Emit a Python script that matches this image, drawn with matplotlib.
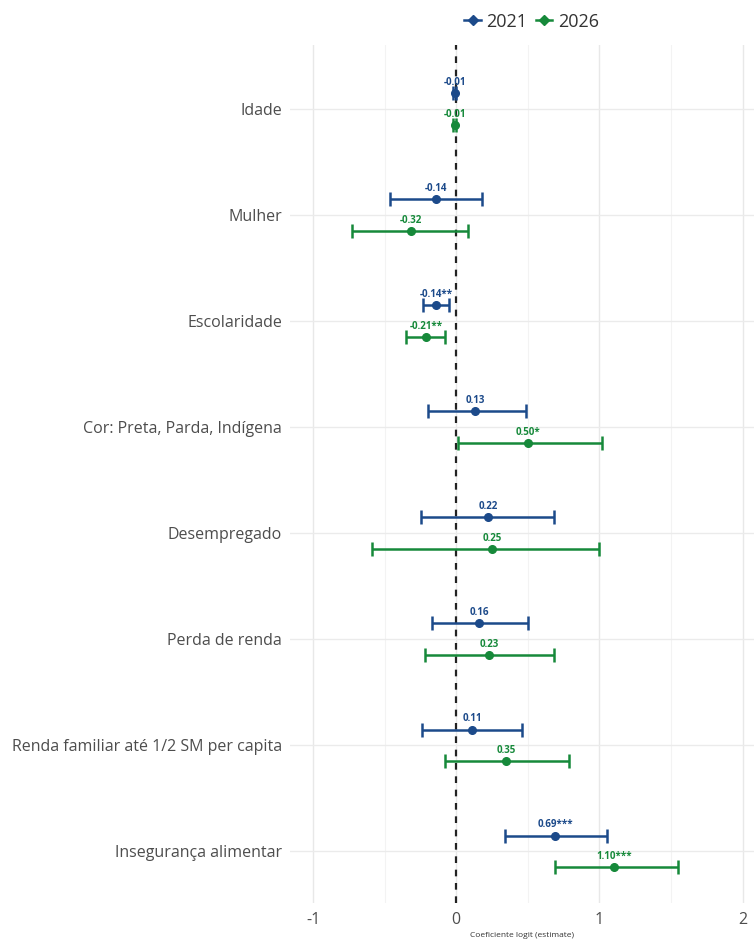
import numpy as np
import matplotlib
matplotlib.use("Agg")
import matplotlib.pyplot as plt
from matplotlib.lines import Line2D

plt.rcParams['font.family'] = ['Open Sans', 'DejaVu Sans']

# Data
categories = ["Idade", "Mulher", "Escolaridade", "Cor: Preta, Parda, Indígena",
              "Desempregado", "Perda de renda", "Renda familiar até 1/2 SM per capita",
              "Insegurança alimentar"]

est_2021 = [-0.01, -0.14, -0.14, 0.13, 0.22, 0.16, 0.11, 0.69]
lo_2021 = [-0.02, -0.46, -0.23, -0.20, -0.25, -0.17, -0.24, 0.34]
hi_2021 = [0.00, 0.18, -0.05, 0.49, 0.68, 0.50, 0.46, 1.05]
lab_2021 = ["-0.01", "-0.14", "-0.14**", "0.13", "0.22", "0.16", "0.11", "0.69***"]

est_2026 = [-0.01, -0.32, -0.21, 0.50, 0.25, 0.23, 0.35, 1.10]
lo_2026 = [-0.02, -0.73, -0.35, 0.01, -0.59, -0.22, -0.08, 0.69]
hi_2026 = [0.00, 0.08, -0.08, 1.02, 1.00, 0.68, 0.79, 1.55]
lab_2026 = ["-0.01", "-0.32", "-0.21**", "0.50*", "0.25", "0.23", "0.35", "1.10***"]

series = [("2021", est_2021, lo_2021, hi_2021, lab_2021, "#1c4a8a", -0.15),
          ("2026", est_2026, lo_2026, hi_2026, lab_2026, "#16893a", 0.15)]

fig = plt.figure(figsize=(7.54, 9.47), dpi=100)
ax = fig.add_axes([0.385, 0.046, 0.615, 0.906])

y = np.arange(len(categories))

# grid
for xv in [-1, 0, 1, 2]:
    ax.axvline(xv, color="#e8e8e8", lw=1.0, zorder=0)
for xv in [-0.5, 0.5, 1.5]:
    ax.axvline(xv, color="#f3f3f3", lw=0.8, zorder=0)
for yv in y:
    ax.axhline(yv, color="#ebebeb", lw=1.0, zorder=0)

ax.axvline(0, color="#222222", lw=1.6, ls=(0, (3, 3)), zorder=1)

handles = []
for name, est, lo, hi, labs, col, off in series:
    est = np.array(est)
    lo = np.array(lo)
    hi = np.array(hi)
    yy = y + off
    ax.errorbar(est, yy, xerr=[est - lo, hi - est], fmt="o", color=col,
                ms=5.5, elinewidth=1.8, capsize=5, capthick=1.8, zorder=3)
    for xe, ye, t in zip(est, yy, labs):
        ax.text(xe, ye - 0.05, t, color=col, fontsize=7, fontweight="bold",
                ha="center", va="bottom", zorder=4)
    handles.append(Line2D([0], [0], color=col, marker="D", ms=5, lw=1.8, label=name))

ax.set_xlim(-1.16, 2.08)
ax.set_ylim(7.49, -0.60)
ax.set_yticks(y)
ax.set_yticklabels(categories, fontsize=11.5, color="#4d4d4d")
ax.set_xticks([-1, 0, 1, 2])
ax.set_xticklabels(["-1", "0", "1", "2"], fontsize=11.5, color="#4d4d4d")
ax.tick_params(length=0, pad=6)
ax.set_xlabel("Coeficiente logit (estimate)", fontsize=6, color="#333333", labelpad=3)
for s in ax.spines.values():
    s.set_visible(False)

fig.legend(handles=handles, loc="center", bbox_to_anchor=(0.705, 0.977), ncol=2,
           frameon=False, fontsize=13, handlelength=0.9, handletextpad=0.3,
           columnspacing=0.5, labelcolor="#333333")

fig.savefig("out.png", dpi=100)
